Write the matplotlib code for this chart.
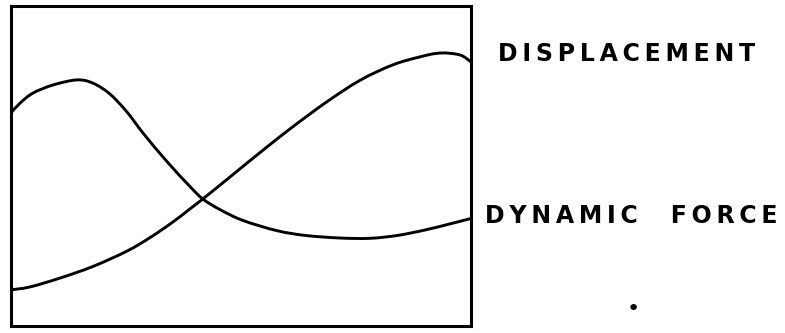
import matplotlib
matplotlib.use("Agg")
import matplotlib.pyplot as plt
from matplotlib.path import Path
from matplotlib.patches import PathPatch

# time across the box (0..100) and response amplitude (0..100)
disp_t = [0, 4.1, 10.7, 17.8, 25.2, 30.2, 35.2, 38.9, 41.7, 46.1, 51.3, 55.7,
          61.3, 68.7, 75.9, 83.0, 88.9, 93.3, 97.6, 100]
disp_y = [11.3, 12.2, 15.0, 18.6, 23.4, 27.6, 32.5, 36.6, 39.7, 44.8, 50.9, 56.0,
          62.3, 70.1, 76.8, 81.6, 84.1, 85.3, 84.7, 82.5]

force_t = [0, 2.0, 4.8, 9.1, 14.3, 17.8, 21.5, 25.2, 28.7, 33.9, 38.9, 41.7,
           45.4, 50.4, 57.8, 64.0, 71.5, 78.0, 84.0, 90.0, 95.4, 100]
force_y = [66.6, 69.7, 72.8, 75.3, 76.9, 75.9, 72.5, 66.9, 60.3, 51.4, 43.6, 39.7,
           36.4, 33.0, 29.8, 28.3, 27.5, 27.4, 28.3, 30.0, 31.9, 33.6]

labels = ["D\u2009I\u2009S\u2009P\u2009L\u2009A\u2009C\u2009E\u2009M\u2009E\u2009N\u2009T",
          "D\u2009Y\u2009N\u2009A\u2009M\u2009I\u2009C    F\u2009O\u2009R\u2009C\u2009E"]


def smooth_path(xs, ys):
    # Catmull-Rom through the points, written as cubic Bezier segments
    pts = list(zip(xs, ys))
    verts = [pts[0]]
    codes = [Path.MOVETO]
    for i in range(len(pts) - 1):
        p0 = pts[i - 1] if i > 0 else pts[i]
        p1 = pts[i]
        p2 = pts[i + 1]
        p3 = pts[i + 2] if i + 2 < len(pts) else pts[i + 1]
        c1 = (p1[0] + (p2[0] - p0[0]) / 6, p1[1] + (p2[1] - p0[1]) / 6)
        c2 = (p2[0] - (p3[0] - p1[0]) / 6, p2[1] - (p3[1] - p1[1]) / 6)
        verts += [c1, c2, p2]
        codes += [Path.CURVE4] * 3
    return Path(verts, codes)


W, H = 785, 333
fig = plt.figure(figsize=(W / 100, H / 100), dpi=100)
ax = fig.add_axes([11 / W, 7 / H, 460 / W, 320 / H])

for xs, ys in [(disp_t, disp_y), (force_t, force_y)]:
    ax.add_patch(PathPatch(smooth_path(xs, ys), fill=False, edgecolor="black",
                           lw=2.1, capstyle="round", joinstyle="round"))

ax.set_xlim(0, 100)
ax.set_ylim(0, 100)
ax.set_xticks([])
ax.set_yticks([])
for sp in ax.spines.values():
    sp.set_linewidth(2.2)

# curve labels to the right of the box
fig.text(498 / W, 1 - 54 / H, labels[0], fontsize=17, va="center", ha="left",
         family="DejaVu Sans", fontweight="bold")
fig.text(485 / W, 1 - 216 / H, labels[1], fontsize=17, va="center", ha="left",
         family="DejaVu Sans", fontweight="bold")
fig.text(633 / W, 1 - 307 / H, "\u2022", fontsize=16, va="center_baseline", ha="center")

fig.savefig("out.png", dpi=100)
